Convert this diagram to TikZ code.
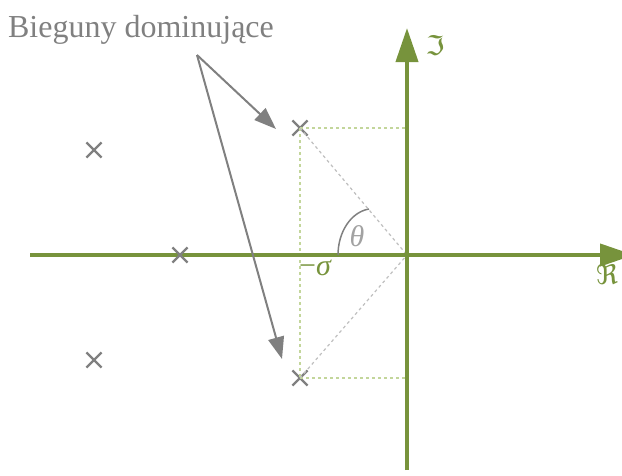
\documentclass[tikz,border=0pt]{standalone}
\usepackage{fontspec}
\setmainfont{Liberation Serif}
\newfontfamily\symfont{DejaVu Sans}
\usetikzlibrary{shapes.misc,arrows.meta}
\definecolor{axisgreen}{HTML}{77933C}
\definecolor{lightgreen}{HTML}{C3D69B}
\definecolor{polegray}{HTML}{808080}
\definecolor{dashgray}{HTML}{BFBFBF}
\tikzset{
  axis/.style={draw=axisgreen, line width=4pt, -{Triangle[length=34pt,width=22pt]}},
  pole/.style={cross out, draw=polegray, line width=2.2pt, minimum size=13pt, inner sep=0pt},
  guide/.style={draw=lightgreen, line width=1.2pt, dash pattern=on 3pt off 3pt},
  ray/.style={draw=dashgray, line width=1.2pt, dash pattern=on 3pt off 3pt},
  pointer/.style={draw=polegray, line width=2pt, -{Triangle[length=22pt,width=16pt]}},
  greek/.style={inner sep=0pt, font=\fontsize{30}{34}\selectfont\itshape},
  frak/.style={inner sep=0pt, font=\fontsize{27}{30}\selectfont\symfont},
}
\begin{document}
\begin{tikzpicture}[x=1pt,y=-1pt]
\useasboundingbox (0,0) rectangle (622,475);
\clip (0,0) rectangle (622,475);
% coordinates
\coordinate (O) at (407,255);
\coordinate (xs) at (30,255);
\coordinate (xe) at (634,255);
\coordinate (ys) at (407,470);
\coordinate (ye) at (407,28);
\coordinate (gt) at (407,128);
\coordinate (gb) at (407,378);
% poles
\node[pole] (p1) at (300,128) {};
\node[pole] (p2) at (300,378) {};
\node[pole] (p3) at (94,150) {};
\node[pole] (p4) at (94,360) {};
% guides
\draw[guide] (p1.center) -- (gt);
\draw[guide] (p2.center) -- (gb);
\draw[guide] (p1.center) -- (p2.center);
\draw[ray] (p1.center) -- (O);
\draw[ray] (p2.center) -- (O);
% axes
\draw[axis] (xs) -- (xe);
\draw[axis] (ys) -- (ye);
\node[pole] (p5) at (180,255) {};
% angle arc
\coordinate (a1) at (338,255);
\coordinate (a2) at (369,209);
\draw[polegray, line width=1.5pt] (a1) .. controls (338,232) and (351,212) .. (a2);
\node[greek, text=dashgray!85!black] (th) at (357,236) {θ};
\node[greek, text=axisgreen] (sg) at (315,268) {{\upshape −}σ};
\node[frak, text=axisgreen] (im) at (435,46) {ℑ};
\node[frak, text=axisgreen] (re) at (607,275) {ℜ};
% label and pointers
\node[text=polegray, font=\fontsize{32}{36}\selectfont, inner sep=0pt] (lbl) at (141,30) {Bieguny dominujące};
\coordinate (src) at (197,55);
\draw[pointer] (src) -- (276,129);
\draw[pointer] (src) -- (282,359);
\end{tikzpicture}
\end{document}
